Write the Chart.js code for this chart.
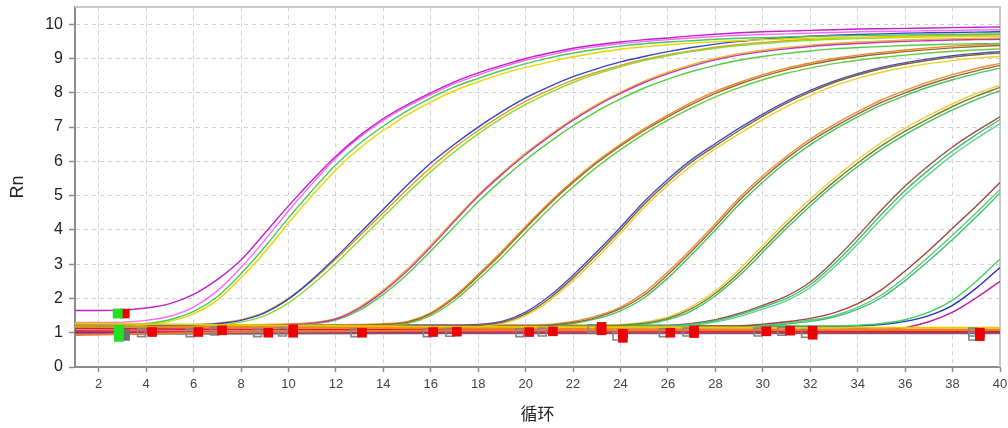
<!DOCTYPE html>
<html><head><meta charset="utf-8">
<script src="https://cdn.jsdelivr.net/npm/chart.js@4/dist/chart.umd.min.js"></script>
<style>html,body{margin:0;padding:0;background:#fff}</style>
</head><body>
<canvas id="c" width="1008" height="428"></canvas>
<script>
// ---- data ----
const cycles = [1,2,3,4,5,6,7,8,9,10,11,12,13,14,15,16,17,18,19,20,21,22,23,24,25,26,27,28,29,30,31,32,33,34,35,36,37,38,39,40];
const xTickValues = [2,4,6,8,10,12,14,16,18,20,22,24,26,28,30,32,34,36,38,40];
const yTickValues = [0,1,2,3,4,5,6,7,8,9,10];

const g1m = [1.65,1.65,1.66,1.72,1.85,2.12,2.55,3.12,3.9,4.7,
 5.45,6.15,6.75,7.25,7.65,8.0,8.32,8.58,8.8,9.0,
 9.16,9.3,9.4,9.48,9.55,9.6,9.66,9.71,9.75,9.78,
 9.8,9.82,9.84,9.86,9.87,9.88,9.89,9.9,9.91,9.92];
const g1a = [1.3,1.3,1.31,1.36,1.48,1.75,2.22,2.9,3.7,4.55,
 5.35,6.1,6.7,7.2,7.6,7.95,8.27,8.52,8.75,8.95,
 9.1,9.25,9.35,9.43,9.5,9.55,9.6,9.64,9.68,9.7,
 9.72,9.74,9.76,9.78,9.79,9.8,9.81,9.82,9.83,9.84];
const g1b = [1.22,1.22,1.23,1.27,1.38,1.62,2.05,2.72,3.5,4.35,
 5.15,5.9,6.52,7.03,7.47,7.85,8.17,8.42,8.65,8.85,
 9.02,9.16,9.27,9.36,9.43,9.48,9.52,9.56,9.59,9.61,
 9.63,9.65,9.66,9.67,9.68,9.69,9.7,9.7,9.71,9.72];
const g1c = [1.18,1.18,1.19,1.23,1.33,1.55,1.95,2.6,3.35,4.2,
 5.0,5.75,6.38,6.9,7.35,7.73,8.06,8.32,8.55,8.74,
 8.9,9.05,9.17,9.27,9.34,9.4,9.45,9.49,9.52,9.55,
 9.57,9.59,9.6,9.61,9.62,9.63,9.64,9.65,9.65,9.66];

const g2a = [1.2,1.2,1.2,1.2,1.21,1.22,1.26,1.36,1.58,1.98,
 2.55,3.2,3.9,4.6,5.3,5.95,6.5,7.0,7.45,7.85,
 8.18,8.47,8.7,8.9,9.06,9.2,9.32,9.42,9.5,9.56,
 9.61,9.65,9.68,9.7,9.72,9.74,9.75,9.76,9.77,9.78];
const g2b = [1.18,1.18,1.18,1.18,1.19,1.2,1.23,1.31,1.5,1.87,
 2.4,3.02,3.7,4.38,5.06,5.7,6.28,6.8,7.26,7.66,
 8.0,8.3,8.55,8.76,8.94,9.08,9.2,9.3,9.38,9.44,
 9.49,9.53,9.56,9.58,9.6,9.62,9.63,9.64,9.65,9.66];
const g2c = [1.22,1.22,1.22,1.22,1.23,1.24,1.28,1.38,1.6,2.0,
 2.52,3.15,3.82,4.5,5.18,5.82,6.4,6.9,7.35,7.75,
 8.08,8.37,8.6,8.8,8.97,9.11,9.23,9.33,9.41,9.47,
 9.52,9.56,9.59,9.61,9.63,9.65,9.66,9.67,9.68,9.69];

const g3a = [1.2,1.2,1.2,1.2,1.2,1.2,1.2,1.21,1.22,1.24,
 1.28,1.4,1.72,2.2,2.8,3.5,4.25,4.98,5.62,6.2,
 6.72,7.2,7.62,7.98,8.3,8.56,8.78,8.96,9.1,9.2,
 9.28,9.35,9.4,9.44,9.47,9.5,9.52,9.54,9.55,9.56];
const g3b = [1.18,1.18,1.18,1.18,1.18,1.18,1.18,1.19,1.2,1.22,
 1.26,1.37,1.66,2.12,2.7,3.38,4.1,4.82,5.46,6.04,
 6.56,7.04,7.46,7.82,8.14,8.4,8.62,8.8,8.95,9.06,
 9.15,9.22,9.28,9.32,9.35,9.38,9.4,9.42,9.43,9.44];
const g3c = [1.22,1.22,1.22,1.22,1.22,1.22,1.22,1.23,1.24,1.26,
 1.3,1.42,1.75,2.25,2.86,3.56,4.3,5.02,5.66,6.24,
 6.76,7.24,7.66,8.02,8.34,8.6,8.82,9.0,9.14,9.24,
 9.32,9.39,9.44,9.48,9.51,9.54,9.56,9.58,9.59,9.6];

const g4a = [1.2,1.2,1.2,1.2,1.2,1.2,1.2,1.2,1.2,1.2,
 1.2,1.21,1.22,1.24,1.3,1.55,2.02,2.65,3.32,4.05,
 4.75,5.38,5.95,6.45,6.9,7.3,7.66,7.98,8.25,8.48,
 8.67,8.82,8.95,9.05,9.13,9.2,9.26,9.31,9.35,9.38];
const g4b = [1.18,1.18,1.18,1.18,1.18,1.18,1.18,1.18,1.18,1.18,
 1.18,1.19,1.2,1.22,1.27,1.5,1.94,2.55,3.2,3.92,
 4.62,5.25,5.83,6.34,6.8,7.2,7.56,7.88,8.15,8.38,
 8.57,8.72,8.85,8.95,9.03,9.1,9.16,9.21,9.25,9.28];
const g4c = [1.22,1.22,1.22,1.22,1.22,1.22,1.22,1.22,1.22,1.22,
 1.22,1.23,1.24,1.26,1.32,1.58,2.06,2.7,3.38,4.1,
 4.8,5.43,6.0,6.5,6.95,7.35,7.72,8.04,8.3,8.53,
 8.72,8.87,9.0,9.1,9.18,9.25,9.31,9.36,9.4,9.43];

const g5a = [1.2,1.2,1.2,1.2,1.2,1.2,1.2,1.2,1.2,1.2,
 1.2,1.2,1.2,1.2,1.2,1.2,1.2,1.22,1.3,1.55,
 2.0,2.6,3.28,4.0,4.75,5.4,5.98,6.45,6.9,7.32,
 7.7,8.02,8.3,8.52,8.7,8.84,8.95,9.04,9.11,9.16];
const g5b = [1.22,1.22,1.22,1.22,1.22,1.22,1.22,1.22,1.22,1.22,
 1.22,1.22,1.22,1.22,1.22,1.22,1.22,1.24,1.33,1.6,
 2.07,2.68,3.36,4.08,4.83,5.48,6.05,6.52,6.97,7.38,
 7.75,8.07,8.34,8.56,8.74,8.88,8.99,9.08,9.15,9.2];
const g5c = [1.18,1.18,1.18,1.18,1.18,1.18,1.18,1.18,1.18,1.18,
 1.18,1.18,1.18,1.18,1.18,1.18,1.18,1.2,1.27,1.5,
 1.93,2.52,3.18,3.9,4.65,5.3,5.88,6.36,6.8,7.22,
 7.6,7.92,8.2,8.42,8.6,8.74,8.85,8.94,9.01,9.06];

const g6a = [1.2,1.2,1.2,1.2,1.2,1.2,1.2,1.2,1.2,1.2,
 1.2,1.2,1.2,1.2,1.2,1.2,1.2,1.2,1.2,1.2,
 1.22,1.3,1.45,1.7,2.1,2.7,3.38,4.1,4.85,5.5,
 6.08,6.58,7.0,7.38,7.72,8.0,8.25,8.46,8.64,8.8];
const g6b = [1.18,1.18,1.18,1.18,1.18,1.18,1.18,1.18,1.18,1.18,
 1.18,1.18,1.18,1.18,1.18,1.18,1.18,1.18,1.18,1.18,
 1.2,1.27,1.41,1.64,2.02,2.6,3.28,4.0,4.74,5.4,
 5.98,6.48,6.92,7.3,7.64,7.92,8.17,8.38,8.56,8.72];
const g6c = [1.22,1.22,1.22,1.22,1.22,1.22,1.22,1.22,1.22,1.22,
 1.22,1.22,1.22,1.22,1.22,1.22,1.22,1.22,1.22,1.22,
 1.24,1.33,1.49,1.75,2.17,2.78,3.46,4.18,4.93,5.58,
 6.15,6.65,7.07,7.45,7.79,8.07,8.32,8.53,8.71,8.86];

const g7a = [1.2,1.2,1.2,1.2,1.2,1.2,1.2,1.2,1.2,1.2,
 1.2,1.2,1.2,1.2,1.2,1.2,1.2,1.2,1.2,1.2,
 1.2,1.2,1.2,1.22,1.28,1.42,1.7,2.15,2.75,3.45,
 4.15,4.8,5.4,5.95,6.45,6.88,7.25,7.6,7.9,8.16];
const g7b = [1.18,1.18,1.18,1.18,1.18,1.18,1.18,1.18,1.18,1.18,
 1.18,1.18,1.18,1.18,1.18,1.18,1.18,1.18,1.18,1.18,
 1.18,1.18,1.18,1.2,1.25,1.38,1.64,2.08,2.66,3.35,
 4.05,4.7,5.3,5.85,6.35,6.78,7.16,7.5,7.8,8.06];
const g7c = [1.22,1.22,1.22,1.22,1.22,1.22,1.22,1.22,1.22,1.22,
 1.22,1.22,1.22,1.22,1.22,1.22,1.22,1.22,1.22,1.22,
 1.22,1.22,1.22,1.24,1.31,1.46,1.76,2.22,2.84,3.55,
 4.25,4.9,5.5,6.05,6.55,6.97,7.34,7.68,7.98,8.22];

const g8a = [1.2,1.2,1.2,1.2,1.2,1.2,1.2,1.2,1.2,1.2,
 1.2,1.2,1.2,1.2,1.2,1.2,1.2,1.2,1.2,1.2,
 1.2,1.2,1.2,1.2,1.2,1.2,1.25,1.35,1.52,1.75,
 2.0,2.4,3.0,3.7,4.45,5.15,5.75,6.3,6.78,7.22];
const g8b = [1.18,1.18,1.18,1.18,1.18,1.18,1.18,1.18,1.18,1.18,
 1.18,1.18,1.18,1.18,1.18,1.18,1.18,1.18,1.18,1.18,
 1.18,1.18,1.18,1.18,1.18,1.18,1.22,1.31,1.47,1.69,
 1.93,2.32,2.9,3.58,4.32,5.02,5.62,6.18,6.66,7.1];
const g8c = [1.22,1.22,1.22,1.22,1.22,1.22,1.22,1.22,1.22,1.22,
 1.22,1.22,1.22,1.22,1.22,1.22,1.22,1.22,1.22,1.22,
 1.22,1.22,1.22,1.22,1.22,1.22,1.27,1.38,1.56,1.8,
 2.07,2.48,3.1,3.82,4.58,5.28,5.88,6.42,6.88,7.3];

const g9a = [1.2,1.2,1.2,1.2,1.2,1.2,1.2,1.2,1.2,1.2,
 1.2,1.2,1.2,1.2,1.2,1.2,1.2,1.2,1.2,1.2,
 1.2,1.2,1.2,1.2,1.2,1.2,1.2,1.2,1.2,1.25,
 1.32,1.42,1.58,1.85,2.25,2.8,3.4,4.05,4.7,5.38];
const g9b = [1.18,1.18,1.18,1.18,1.18,1.18,1.18,1.18,1.18,1.18,
 1.18,1.18,1.18,1.18,1.18,1.18,1.18,1.18,1.18,1.18,
 1.18,1.18,1.18,1.18,1.18,1.18,1.18,1.18,1.18,1.2,
 1.25,1.33,1.46,1.68,2.02,2.52,3.1,3.72,4.38,5.08];
const g9c = [1.2,1.2,1.2,1.2,1.2,1.2,1.2,1.2,1.2,1.2,
 1.2,1.2,1.2,1.2,1.2,1.2,1.2,1.2,1.2,1.2,
 1.2,1.2,1.2,1.2,1.2,1.2,1.2,1.2,1.2,1.22,
 1.28,1.37,1.5,1.74,2.1,2.62,3.22,3.85,4.5,5.18];

const g10a = [1.2,1.2,1.2,1.2,1.2,1.2,1.2,1.2,1.2,1.2,
 1.2,1.2,1.2,1.2,1.2,1.2,1.2,1.2,1.2,1.2,
 1.2,1.2,1.2,1.2,1.2,1.2,1.2,1.2,1.2,1.2,
 1.2,1.2,1.2,1.22,1.27,1.38,1.6,1.95,2.5,3.15];
const g10b = [1.18,1.18,1.18,1.18,1.18,1.18,1.18,1.18,1.18,1.18,
 1.18,1.18,1.18,1.18,1.18,1.18,1.18,1.18,1.18,1.18,
 1.18,1.18,1.18,1.18,1.18,1.18,1.18,1.18,1.18,1.18,
 1.18,1.18,1.18,1.2,1.24,1.33,1.5,1.8,2.3,2.9];
const g10c = [1.15,1.15,1.15,1.15,1.15,1.15,1.15,1.15,1.15,1.15,
 1.15,1.15,1.15,1.15,1.15,1.15,1.15,1.15,1.15,1.15,
 1.15,1.15,1.15,1.15,1.15,1.15,1.15,1.15,1.15,1.15,
 1.15,1.15,1.15,1.12,1.1,1.15,1.32,1.6,2.02,2.5];

// flat (negative) wells
const baseCycles = [1,8,16,24,32,40];
const baseRed    = [1.12,1.1,1.08,1.06,1.05,1.05];
const baseOrange = [1.2,1.16,1.13,1.11,1.1,1.1];
const baseYellow = [1.28,1.22,1.18,1.16,1.15,1.15];
const basePurple = [1.0,1.0,1.0,1.0,1.0,1.0];
const baseGray   = [0.96,0.97,0.98,0.98,0.98,0.98];
const baseRed2   = [1.05,1.04,1.03,1.02,1.02,1.03];
const baseOrange2= [0.93,1.02,1.06,1.07,1.08,1.08];

// baseline start/end markers
const redMarkX = [3.1,4.25,6.2,7.2,9.15,10.2,10.2,13.1,16.1,17.1,20.15,21.15,23.2,23.2,24.1,24.1,26.1,27.1,27.1,30.15,31.15,32.1,32.1,39.15,39.15];
const redMarkY = [1.56,1.02,1.02,1.07,1.0,1.1,1.0,1.0,1.02,1.03,1.02,1.04,1.17,1.07,0.97,0.85,1.0,1.07,0.99,1.04,1.06,1.06,0.94,1.0,0.9];
const grayMarkX = [3.8,5.85,6.9,8.7,9.75,12.8,15.85,16.8,19.75,20.7,22.8,23.85,25.8,26.8,29.8,30.8,31.8,38.85,38.85];
const grayMarkY = [1.0,1.0,1.05,1.0,1.02,1.0,1.0,1.01,1.0,1.02,1.12,0.9,1.0,1.02,1.02,1.04,0.98,1.02,0.9];
const greenMarkX = [2.8,2.85,2.85];
const greenMarkY = [1.56,1.08,0.88];
const darkMarkX = [3.15,3.15];
const darkMarkY = [1.0,0.88];

// ---- styles ----
const curves = [g1m,g1a,g1b,g1c,g2a,g2b,g2c,g3a,g3b,g3c,g4a,g4b,g4c,g5a,g5b,g5c,g6a,g6b,g6c,g7a,g7b,g7c,g8a,g8b,g8c,g9a,g9b,g9c,g10a,g10b,g10c];
const curveColors = ['#c020c8','#ff66ff','#44cc55','#e8d800',
 '#3344cc','#88dd33','#e89a20',
 '#cc33bb','#55cc44','#e0c020',
 '#9a6a2a','#66cc44','#ee8822',
 '#8a6030','#4050c8','#e8d030',
 '#8a6a3a','#50c060','#ee9030',
 '#7a7a30','#44c060','#e8d040',
 '#40c070','#60d090','#a05040',
 '#a04040','#40c070','#60cc80',
 '#40d060','#3030c0','#c020a0'];
const bases = [baseOrange2,baseYellow,baseOrange,baseRed,baseRed2,basePurple,baseGray];
const baseColors = ['#f07a30','#e8c800','#f08020','#e02020','#d83050','#902878','#7a7a7a'];

const datasets = [];
curves.forEach((arr, k) => {
  datasets.push({data: arr.map((v,i)=>({x:cycles[i], y:v})), borderColor: curveColors[k],
    borderWidth: 1.4, pointRadius: 0, cubicInterpolationMode: 'monotone', order: 3, fill:false});
});
bases.forEach((arr, k) => {
  datasets.push({data: arr.map((v,i)=>({x:baseCycles[i], y:v})), borderColor: baseColors[k],
    borderWidth: 1.8, pointRadius: 0, cubicInterpolationMode: 'monotone', order: 2, fill:false});
});
function marks(xs, ys, opts){
  return Object.assign({data: xs.map((x,i)=>({x:x, y:ys[i]})), showLine:false, pointStyle:'rect', order:1}, opts);
}
datasets.push(marks(grayMarkX, grayMarkY, {pointRadius:5.5, pointBackgroundColor:'rgba(0,0,0,0)', pointBorderColor:'#858585', pointBorderWidth:1.6, order:1}));
datasets.push(marks(darkMarkX, darkMarkY, {pointRadius:5.5, pointBackgroundColor:'#6e6e6e', pointBorderColor:'#6e6e6e', pointBorderWidth:0, order:1}));
datasets.push(marks(greenMarkX, greenMarkY, {pointRadius:7, pointBackgroundColor:'#22e022', pointBorderColor:'#22e022', pointBorderWidth:0, order:0}));
datasets.push(marks(redMarkX, redMarkY, {pointRadius:6.8, pointBackgroundColor:'#ee0000', pointBorderColor:'#ee0000', pointBorderWidth:0, order:0}));

const framePlugin = {
  id: 'frame',
  beforeDatasetsDraw(chart) {
    const {ctx, chartArea: a} = chart;
    ctx.save();
    ctx.strokeStyle = '#c8c8c8'; ctx.lineWidth = 2;
    ctx.beginPath(); ctx.moveTo(a.left, a.top); ctx.lineTo(a.right, a.top); ctx.lineTo(a.right, a.bottom); ctx.stroke();
    ctx.restore();
  }
};

const fontFam = '"Liberation Sans", Arial, sans-serif';
new Chart(document.getElementById('c'), {
  type: 'line',
  data: { datasets },
  options: {
    responsive: false, animation: false, devicePixelRatio: 1,
    layout: { padding: { top: 7, right: 8, left: 0, bottom: 0 } },
    plugins: { legend: { display: false }, tooltip: { enabled: false } },
    scales: {
      x: {
        type: 'linear', min: 1, max: 40,
        afterBuildTicks: s => { s.ticks = xTickValues.map(v => ({value: v})); },
        afterFit: s => { s.height = 61; s.paddingLeft = 0; s.paddingRight = 0; },
        grid: { color: '#d2d2d2', lineWidth: 1, tickLength: 5, tickColor: '#8c8c8c', tickWidth: 1.5 },
        border: { color: '#8c8c8c', width: 2, dash: [4,4] },
        ticks: { padding: 5, color: '#444', font: { family: fontFam, size: 13 }, maxRotation: 0, autoSkip: false },
        title: { display: true, text: '循环', color: '#222', font: { family: '"Noto Sans CJK SC", sans-serif', size: 17 }, padding: { top: 0, bottom: 4 } }
      },
      y: {
        type: 'linear', min: 0, max: 10.5,
        afterBuildTicks: s => { s.ticks = yTickValues.map(v => ({value: v})); },
        afterFit: s => { s.width = 75; s.paddingTop = 0; s.paddingBottom = 0; },
        grid: { color: '#d2d2d2', lineWidth: 1, tickLength: 6, tickColor: '#8c8c8c', tickWidth: 1.5 },
        border: { color: '#8c8c8c', width: 2, dash: [4,4] },
        ticks: { padding: 6, color: '#222', font: { family: fontFam, size: 16 } },
        title: { display: true, text: 'Rn', color: '#222', font: { family: fontFam, size: 18 }, padding: { top: 7, bottom: 0 } }
      }
    }
  },
  plugins: [framePlugin]
});
</script>
</body></html>
